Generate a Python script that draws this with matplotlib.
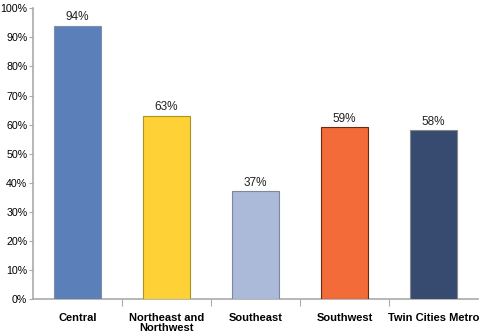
import matplotlib
matplotlib.use("Agg")
import matplotlib.pyplot as plt
from matplotlib.ticker import FixedLocator, PercentFormatter

regions = ["Central", "Northeast and\nNorthwest", "Southeast", "Southwest", "Twin Cities Metro"]
values = [94, 63, 37, 59, 58]
colors = ["#5b7fb8", "#fed136", "#abbad9", "#f26b38", "#374a70"]
edges = ["#7f8fa8", "#b09020", "#7f8898", "#6a2a10", "#888888"]

plt.rcParams["font.family"] = ["Liberation Sans", "DejaVu Sans"]

fig = plt.figure(figsize=(4.83, 3.34), dpi=100)
ax = fig.add_axes([0.068, 0.105, 0.922, 0.87])

x = range(len(regions))
bars = ax.bar(x, values, width=0.53, color=colors, edgecolor=edges, linewidth=0.8, zorder=3)
for xi, v in zip(x, values):
    ax.text(xi, v + 0.9, f"{v}%", ha="center", va="bottom", fontsize=8.5, color="#222222")

ax.set_xlim(-0.5, len(regions) - 0.5)
ax.set_ylim(0, 100)
ax.set_yticks(range(0, 101, 10))
ax.yaxis.set_major_formatter(PercentFormatter(decimals=0))
ax.xaxis.set_major_locator(FixedLocator([i + 0.5 for i in range(len(regions) - 1)]))
ax.xaxis.set_minor_locator(FixedLocator(list(x)))
ax.set_xticklabels([])
ax.set_xticklabels(regions, minor=True, fontsize=8, fontweight="bold", va="top", linespacing=1.05)
ax.tick_params(axis="x", which="minor", length=0, pad=10)
ax.tick_params(axis="x", which="major", length=5, color="#aaaaaa")
ax.tick_params(axis="y", length=3, color="#aaaaaa", labelsize=7.7, pad=1)

for s in ("top", "right"):
    ax.spines[s].set_visible(False)
for s in ("left", "bottom"):
    ax.spines[s].set_color("#aaaaaa")
    ax.spines[s].set_linewidth(1.2)

fig.savefig("out.png", dpi=100)
